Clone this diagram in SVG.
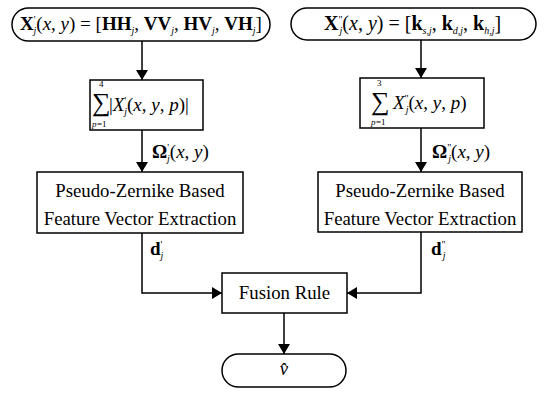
<svg xmlns="http://www.w3.org/2000/svg" width="556" height="395" viewBox="0 0 556 395">
<style>
.box{fill:#fff;stroke:#000;stroke-width:1.5}
.ln{fill:none;stroke:#000;stroke-width:1.5}
text{font-family:"Liberation Serif","Times New Roman",serif;fill:#000}
.t{font-size:18.8px}
.m{font-size:19px}
.mt{font-size:20px}
.b{font-weight:bold}
.i{font-style:italic}
.s{font-size:10px;font-style:italic}
.p{font-size:10px}
</style>
<defs>
<marker id="ar" viewBox="0 0 10 12" refX="10" refY="6" markerWidth="10" markerHeight="12" markerUnits="userSpaceOnUse" orient="auto">
<path d="M0,0 L10,6 L0,12 Z" fill="#000"/>
</marker>
</defs>
<g id="connectors">
<path class="ln" d="M142,41 V80" marker-end="url(#ar)"/>
<path class="ln" d="M142,130 V172" marker-end="url(#ar)"/>
<path class="ln" d="M142,233 V293 H222" marker-end="url(#ar)"/>
<path class="ln" d="M421,40 V78" marker-end="url(#ar)"/>
<path class="ln" d="M421,128 V172" marker-end="url(#ar)"/>
<path class="ln" d="M421,232 V293 H347" marker-end="url(#ar)"/>
<path class="ln" d="M284,313 V354" marker-end="url(#ar)"/>
<text class="m" x="152" y="158"><tspan class="b">Ω</tspan><tspan class="p" dy="-7">'</tspan><tspan class="s" dx="-2" dy="11">j</tspan><tspan dy="-4">(</tspan><tspan class="i">x</tspan>, <tspan class="i">y</tspan>)</text>
<text class="m" x="432" y="158"><tspan class="b">Ω</tspan><tspan class="p" dy="-7">"</tspan><tspan class="s" dx="-3" dy="11">j</tspan><tspan dy="-4">(</tspan><tspan class="i">x</tspan>, <tspan class="i">y</tspan>)</text>
<text class="m" x="150" y="255"><tspan class="b">d</tspan><tspan class="p" dy="-7">'</tspan><tspan class="s" dx="-2" dy="11">j</tspan></text>
<text class="m" x="431" y="255"><tspan class="b">d</tspan><tspan class="p" dy="-7">"</tspan><tspan class="s" dx="-3" dy="11">j</tspan></text>
</g>
<g id="input1">
<rect class="box" x="12" y="8" width="258" height="33" rx="16.5"/>
<text class="m" x="20" y="30"><tspan class="b">X</tspan><tspan class="p" dy="-7">'</tspan><tspan class="s" dx="-2" dy="11">j</tspan><tspan dy="-4">(</tspan><tspan class="i">x</tspan>, <tspan class="i">y</tspan>) = [<tspan class="b">HH</tspan><tspan class="s" dy="4">j</tspan><tspan dy="-4">, </tspan><tspan class="b">VV</tspan><tspan class="s" dy="4">j</tspan><tspan dy="-4">, </tspan><tspan class="b">HV</tspan><tspan class="s" dy="4">j</tspan><tspan dy="-4">, </tspan><tspan class="b">VH</tspan><tspan class="s" dy="4">j</tspan><tspan dy="-4">]</tspan></text>
</g>
<g id="input2">
<rect class="box" x="291" y="8" width="245" height="32" rx="16"/>
<text class="mt" x="324" y="30"><tspan class="b">X</tspan><tspan class="p" dy="-7">"</tspan><tspan class="s" dx="-3" dy="11">j</tspan><tspan dy="-4">(</tspan><tspan class="i">x</tspan>, <tspan class="i">y</tspan>) = [<tspan class="b">k</tspan><tspan class="s" font-size="11" dy="4">s,j</tspan><tspan dy="-4">, </tspan><tspan class="b">k</tspan><tspan class="s" font-size="11" dy="4">d,j</tspan><tspan dy="-4">, </tspan><tspan class="b">k</tspan><tspan class="s" font-size="11" dy="4">h,j</tspan><tspan dy="-4">]</tspan></text>
</g>
<g id="sum1">
<rect class="box" x="90" y="80" width="113" height="50"/>
<text x="92" y="111" font-size="26">∑</text>
<text x="99" y="87" font-size="9">4</text>
<text class="i" x="92" y="127" font-size="9">p</text><text x="97" y="127" font-size="9">=1</text>
<text class="m" x="109" y="111">|<tspan class="i">X</tspan><tspan class="p" dy="-7">'</tspan><tspan class="s" dx="-2" dy="11">j</tspan><tspan dy="-4">(</tspan><tspan class="i">x</tspan>, <tspan class="i">y</tspan>, <tspan class="i">p</tspan>)|</text>
</g>
<g id="sum2">
<rect class="box" x="360" y="78" width="124" height="50"/>
<text x="371" y="110" font-size="26">∑</text>
<text x="377" y="86" font-size="9">3</text>
<text class="i" x="371" y="125" font-size="9">p</text><text x="376" y="125" font-size="9">=1</text>
<text class="m" x="393" y="109"><tspan class="i">X</tspan><tspan class="p" dy="-7">"</tspan><tspan class="s" dx="-3" dy="11">j</tspan><tspan dy="-4">(</tspan><tspan class="i">x</tspan>, <tspan class="i">y</tspan>, <tspan class="i">p</tspan>)</text>
</g>
<g id="pz1">
<rect class="box" x="37" y="172" width="206" height="61"/>
<text class="t" x="140" y="197" text-anchor="middle">Pseudo-Zernike Based</text>
<text class="t" x="140" y="225" text-anchor="middle">Feature Vector Extraction</text>
</g>
<g id="pz2">
<rect class="box" x="318" y="172" width="204" height="60"/>
<text class="t" x="420" y="197" text-anchor="middle">Pseudo-Zernike Based</text>
<text class="t" x="420" y="225" text-anchor="middle">Feature Vector Extraction</text>
</g>
<g id="fusion">
<rect class="box" x="222" y="273" width="125" height="40"/>
<text class="t" x="284.5" y="299" text-anchor="middle">Fusion Rule</text>
</g>
<g id="output">
<rect class="box" x="222" y="354" width="124" height="33" rx="16.5"/>
<text class="t i" x="284" y="375" text-anchor="middle">v̂</text>
</g>
</svg>
